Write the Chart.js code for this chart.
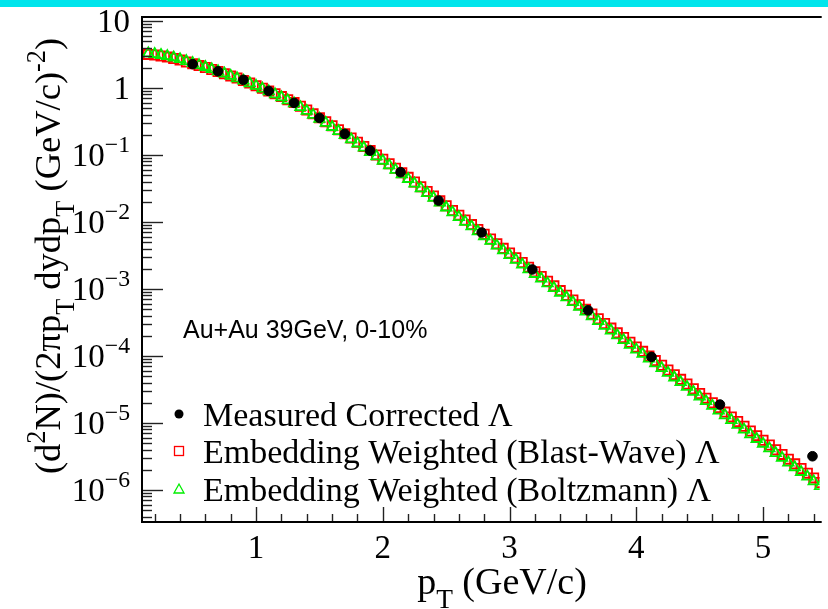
<!DOCTYPE html>
<html><head><meta charset="utf-8">
<script src="https://cdn.jsdelivr.net/npm/chart.js@4.4.1/dist/chart.umd.min.js"></script>
<style>
html,body{margin:0;padding:0;background:#fff;overflow:hidden;}
#wrap{position:relative;width:828px;height:609px;}
#bar{position:absolute;left:0;top:0;width:828px;height:7px;background:#00e5ec;}
canvas{position:absolute;left:0;top:0;}
</style></head><body>
<div id="wrap"><canvas id="c" width="828" height="609"></canvas><div id="bar"></div></div>
<script>
// ---------------- data ----------------
const embPt = [0.15,0.20,0.25,0.30,0.35,0.40,0.45,0.50,0.55,0.60,0.65,0.70,0.75,0.80,0.85,0.90,0.95,1.00,1.05,1.10,1.15,1.20,1.25,1.30,1.35,1.40,1.45,1.50,1.55,1.60,1.65,1.70,1.75,1.80,1.85,1.90,1.95,2.00,2.05,2.10,2.15,2.20,2.25,2.30,2.35,2.40,2.45,2.50,2.55,2.60,2.65,2.70,2.75,2.80,2.85,2.90,2.95,3.00,3.05,3.10,3.15,3.20,3.25,3.30,3.35,3.40,3.45,3.50,3.55,3.60,3.65,3.70,3.75,3.80,3.85,3.90,3.95,4.00,4.05,4.10,4.15,4.20,4.25,4.30,4.35,4.40,4.45,4.50,4.55,4.60,4.65,4.70,4.75,4.80,4.85,4.90,4.95,5.00,5.05,5.10,5.15,5.20,5.25,5.30,5.35,5.40,5.45];
const blastWave = [3.16,3.09,2.99,2.88,2.75,2.60,2.44,2.29,2.15,2.02,
  1.88,1.76,1.63,1.51,1.40,1.29,1.18,1.08,0.989,0.902,
  0.818,0.741,0.668,0.603,0.531,0.468,0.410,0.359,0.313,0.272,
  0.237,0.207,0.179,0.155,0.134,0.116,0.100,0.0861,0.0738,0.0631,
  0.0541,0.0462,0.0394,0.0335,0.0285,0.0243,0.0206,0.0174,0.0148,0.0126,
  0.0107,0.00912,0.00773,0.00653,0.00556,0.00473,0.00403,0.00343,0.00292,0.00248,
  0.00211,0.00180,0.00153,0.00130,0.00111,9.44e-4,8.04e-4,6.84e-4,5.82e-4,4.95e-4,
  4.22e-4,3.59e-4,3.05e-4,2.60e-4,2.21e-4,1.88e-4,1.60e-4,1.36e-4,1.17e-4,1.00e-4,
  8.51e-5,7.24e-5,6.17e-5,5.25e-5,4.47e-5,3.80e-5,3.24e-5,2.75e-5,2.34e-5,2.00e-5,
  1.70e-5,1.45e-5,1.23e-5,1.05e-5,8.91e-6,7.59e-6,6.46e-6,5.50e-6,4.68e-6,3.98e-6,
  3.39e-6,2.88e-6,2.45e-6,2.09e-6,1.78e-6,1.51e-6,1.29e-6];
const boltzmann = [3.27,3.20,3.09,2.98,2.84,2.68,2.51,2.34,2.19,2.05,
  1.90,1.77,1.64,1.51,1.39,1.28,1.17,1.07,0.975,0.886,
  0.801,0.724,0.651,0.586,0.515,0.453,0.396,0.346,0.301,0.261,
  0.227,0.198,0.171,0.148,0.128,0.110,0.0953,0.0818,0.0700,0.0598,
  0.0512,0.0437,0.0372,0.0316,0.0269,0.0229,0.0194,0.0164,0.0139,0.0118,
  0.0100,0.00855,0.00724,0.00611,0.00520,0.00442,0.00376,0.00320,0.00272,0.00231,
  0.00196,0.00167,0.00142,0.00121,0.00103,8.76e-4,7.45e-4,6.33e-4,5.38e-4,4.57e-4,
  3.89e-4,3.31e-4,2.81e-4,2.39e-4,2.03e-4,1.72e-4,1.46e-4,1.24e-4,1.07e-4,9.12e-5,
  7.74e-5,6.58e-5,5.60e-5,4.76e-5,4.05e-5,3.44e-5,2.92e-5,2.48e-5,2.11e-5,1.80e-5,
  1.53e-5,1.30e-5,1.10e-5,9.37e-6,7.95e-6,6.76e-6,5.75e-6,4.89e-6,4.16e-6,3.54e-6,
  3.01e-6,2.56e-6,2.18e-6,1.85e-6,1.58e-6,1.34e-6,1.14e-6];
const measPt   = [0.50,0.70,0.90,1.10,1.30,1.50,1.70,1.90,2.14,2.44,2.78,3.18,3.62,4.12,4.66,5.39];
const measured = [2.26,1.77,1.32,0.90,0.597,0.356,0.206,0.116,0.0552,0.0208,0.00695,0.00195,4.79e-4,9.66e-5,1.88e-5,3.18e-6];
const measErr  = [0.02,0.015,0.01,0.008,0.005,0.003,0.002,0.001,5e-4,2e-4,7e-5,2e-5,6e-6,1.5e-6,5e-7,3.2e-7];
const xTickLabels = ['1','2','3','4','5'];
const yTickExps = [1,0,-1,-2,-3,-4,-5,-6];
const legendLabels = ['Measured Corrected \u039B','Embedding Weighted (Blast-Wave) \u039B','Embedding Weighted (Boltzmann) \u039B'];
const annotation = 'Au+Au 39GeV, 0-10%';

// ---------------- drawing helpers ----------------
const SERIF = '"Liberation Serif","Times New Roman",serif';
const SANS = '"Liberation Sans",Arial,sans-serif';
function segW(ctx, s, size){ctx.font = (s.k==='n'?size:size*0.72)+'px '+SERIF; return ctx.measureText(s.t).width;}
function drawRich(ctx, segs, x, y, size, align){
  let w = 0; segs.forEach(s=>{w += segW(ctx,s,size);});
  let cx = align==='center' ? x - w/2 : (align==='right' ? x - w : x);
  ctx.textBaseline = 'alphabetic'; ctx.textAlign = 'left';
  segs.forEach(s=>{
    const ww = segW(ctx,s,size);
    let dy = 0;
    if (s.k==='sup') dy = -size*0.42;
    if (s.k==='sub') dy = size*0.38;
    ctx.fillText(s.t, cx, y+dy);
    cx += ww;
  });
}

const rootPlugin = {
  id:'rootStyle',
  afterDatasetsDraw(chart){
    const ctx = chart.ctx, xs = chart.scales.x, ys = chart.scales.y, a = chart.chartArea;
    ctx.save();
    // error bars on measured points
    ctx.strokeStyle = '#000'; ctx.lineWidth = 1.5;
    measPt.forEach((p,i)=>{
      const px = xs.getPixelForValue(p);
      ctx.beginPath();
      ctx.moveTo(px, ys.getPixelForValue(measured[i]+measErr[i]));
      ctx.lineTo(px, ys.getPixelForValue(Math.max(measured[i]-measErr[i],1e-9)));
      ctx.stroke();
    });
    // ticks
    ctx.strokeStyle = '#222'; ctx.lineWidth = 1.4;
    for (let e=-7;e<=1;e++){
      for (let m=1;m<=9;m++){
        const v = m*Math.pow(10,e);
        if (v<ys.min || v>ys.max) continue;
        const py = Math.round(ys.getPixelForValue(v))+0.5;
        const len = m===1?21:10;
        ctx.beginPath(); ctx.moveTo(a.left, py); ctx.lineTo(a.left+len, py); ctx.stroke();
      }
    }
    for (let k=1;k<=30;k++){
      const v = k*0.2;
      if (v<xs.min || v>xs.max) continue;
      const px = Math.round(xs.getPixelForValue(v))+0.5;
      const len = (k%5===0)?15:8;
      ctx.beginPath(); ctx.moveTo(px, a.bottom); ctx.lineTo(px, a.bottom-len); ctx.stroke();
    }
    // frame
    ctx.strokeStyle = '#000'; ctx.lineWidth = 2;
    ctx.beginPath();
    ctx.moveTo(a.right+2, a.top); ctx.lineTo(a.left, a.top); ctx.lineTo(a.left, a.bottom); ctx.lineTo(a.right+2, a.bottom);
    ctx.stroke();
    // y tick labels
    ctx.fillStyle = '#000';
    yTickExps.forEach(e=>{
      const py = ys.getPixelForValue(Math.pow(10,e)) + 11;
      let segs;
      if (e===1) segs=[{t:'10',k:'n'}];
      else if (e===0) segs=[{t:'1',k:'n'}];
      else segs=[{t:'10',k:'n'},{t:'\u2212'+(-e),k:'sup'}];
      drawRich(ctx, segs, 130, py, 33, 'right');
    });
    // x tick labels
    xTickLabels.forEach(l=>{
      const px = xs.getPixelForValue(parseFloat(l));
      drawRich(ctx, [{t:l,k:'n'}], px, 558, 33, 'center');
    });
    // x title
    drawRich(ctx, [{t:'p',k:'n'},{t:'T',k:'sub'},{t:' (GeV/c)',k:'n'}], 502, 594, 38, 'center');
    // y title
    ctx.save();
    ctx.translate(60, 256); ctx.rotate(-Math.PI/2);
    drawRich(ctx, [{t:'(d',k:'n'},{t:'2',k:'sup'},{t:'N)/(2\u03C0p',k:'n'},{t:'T',k:'sub'},{t:' dydp',k:'n'},{t:'T',k:'sub'},{t:' (GeV/c)',k:'n'},{t:'-2',k:'sup'},{t:')',k:'n'}], 0, 0, 36.5, 'center');
    ctx.restore();
    // annotation
    ctx.font = '25px '+SANS; ctx.textAlign='left'; ctx.textBaseline='alphabetic';
    ctx.fillText(annotation, 183, 338);
    // legend
    const rows = [414, 451, 489];
    const mx = 179;
    ctx.fillStyle='#000';
    ctx.beginPath(); ctx.arc(mx, rows[0], 4.5, 0, Math.PI*2); ctx.fill();
    ctx.strokeStyle='#ff0000'; ctx.lineWidth=1.3;
    ctx.strokeRect(mx-4.5, rows[1]-4.5, 9, 9);
    ctx.strokeStyle='#00ee00';
    ctx.beginPath(); ctx.moveTo(mx, rows[2]-5); ctx.lineTo(mx+5, rows[2]+4); ctx.lineTo(mx-5, rows[2]+4); ctx.closePath(); ctx.stroke();
    ctx.fillStyle='#000';
    legendLabels.forEach((l,i)=>{
      ctx.font = '34px '+SERIF; ctx.textAlign='left';
      ctx.fillText(l, 203, rows[i]+12);
    });
    ctx.restore();
  }
};

new Chart(document.getElementById('c'), {
  type:'scatter',
  data:{datasets:[
    {label:legendLabels[0], data:measPt.map((x,i)=>({x, y:measured[i]})), pointStyle:'circle', pointRadius:4.8, backgroundColor:'#000', borderColor:'#000', borderWidth:1, order:0},
    {label:legendLabels[2], data:embPt.map((x,i)=>({x, y:boltzmann[i]})), pointStyle:'triangle', pointRadius:6, backgroundColor:'rgba(0,0,0,0)', borderColor:'#00ee00', borderWidth:1.8, order:1},
    {label:legendLabels[1], data:embPt.map((x,i)=>({x, y:blastWave[i]})), pointStyle:'rect', pointRadius:6.5, backgroundColor:'rgba(0,0,0,0)', borderColor:'#ff0000', borderWidth:1.8, order:2}
  ]},
  options:{
    responsive:false, animation:false, devicePixelRatio:1,
    layout:{padding:{left:142, top:17, right:0, bottom:87}},
    plugins:{legend:{display:false}, tooltip:{enabled:false}},
    scales:{
      x:{type:'linear', min:0.1, max:5.447, display:false},
      y:{type:'logarithmic', min:3.32e-7, max:11.43, display:false}
    }
  },
  plugins:[rootPlugin]
});
</script>
</body></html>
